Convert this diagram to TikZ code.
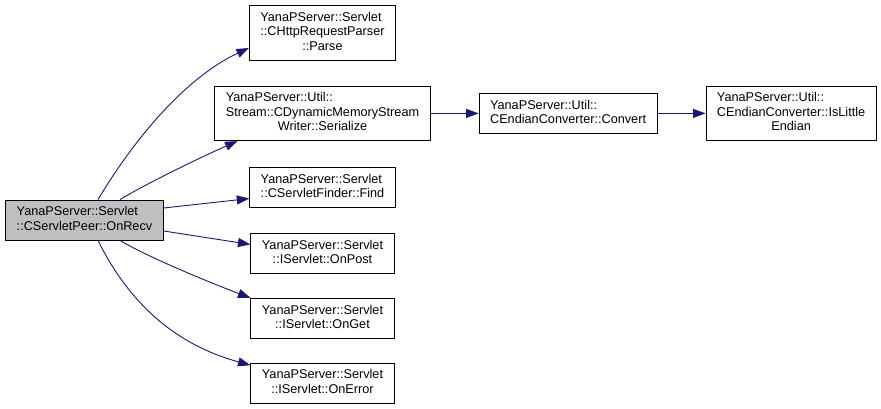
\documentclass[tikz,border=0pt]{standalone}
\usepackage{fontspec}
\setmainfont{Liberation Sans}
\usetikzlibrary{positioning,arrows.meta}
\definecolor{edgeblue}{HTML}{191970}
\definecolor{rootgray}{HTML}{BFBFBF}
\newcommand{\fnlabel}[2]{\begin{tabular}{@{}l@{}}#1\\\multicolumn{1}{@{}c@{}}{#2}\end{tabular}}
\tikzset{
  fnbox/.style={rectangle, draw=black, line width=0.9pt, fill=white, inner xsep=11pt, inner ysep=5.5pt,
                font=\fontsize{12.7}{14.5}\selectfont},
  rootbox/.style={fnbox, fill=rootgray},
  call/.style={->, >={Triangle[length=12.5pt,width=9pt]}, draw=edgeblue, line width=0.9pt},
}

\begin{document}
\begin{tikzpicture}[x=1pt,y=-1pt]
\useasboundingbox (0,0) rectangle (881,409);
%Nodes
\node[rootbox] (recv) at (84.5,220) {\fnlabel{YanaPServer::Servlet}{::CServletPeer::OnRecv}};
\node[fnbox] (parse) at (322.5,33) {\fnlabel{YanaPServer::Servlet\\::CHttpRequestParser}{::Parse}};
\node[fnbox] (serialize) [below=25pt of parse] {\fnlabel{YanaPServer::Util::\\Stream::CDynamicMemoryStream}{Writer::Serialize}};
\node[fnbox] (find) [below=26pt of serialize] {\fnlabel{YanaPServer::Servlet}{::CServletFinder::Find}};
\node[fnbox] (onpost) [below=25pt of find] {\fnlabel{YanaPServer::Servlet}{::IServlet::OnPost}};
\node[fnbox] (onget) [below=24pt of onpost] {\fnlabel{YanaPServer::Servlet}{::IServlet::OnGet}};
\node[fnbox] (onerror) [below=24pt of onget] {\fnlabel{YanaPServer::Servlet}{::IServlet::OnError}};
\node[fnbox] (convert) [right=48pt of serialize] {\fnlabel{YanaPServer::Util::}{CEndianConverter::Convert}};
\node[fnbox] (little) [right=48pt of convert] {\fnlabel{YanaPServer::Util::\\CEndianConverter::IsLittle}{Endian}};

%Lines
\draw[call] ([xshift=13.5pt]recv.north) .. controls +(42,-70) and +(-58,27) .. ([yshift=-15pt]parse.west);
\draw[call] ([xshift=35.5pt]recv.north) .. controls +(30,-18) and +(-32,14) .. ([xshift=-85pt]serialize.south);
\draw[call] ([yshift=12pt]recv.east) -- ([yshift=-11pt]find.west);
\draw[call] ([yshift=-11pt]recv.east) -- ([yshift=9pt]onpost.west);
\draw[call] ([xshift=35.5pt]recv.south) .. controls +(30,18) and +(-32,-12) .. (onget.north west);
\draw[call] ([xshift=13.5pt]recv.south) .. controls +(42,85) and +(-50,-14) .. ([yshift=18pt]onerror.west);
\draw[call] (serialize.east) -- (convert.west);
\draw[call] (convert.east) -- (little.west);
\end{tikzpicture}
\end{document}
